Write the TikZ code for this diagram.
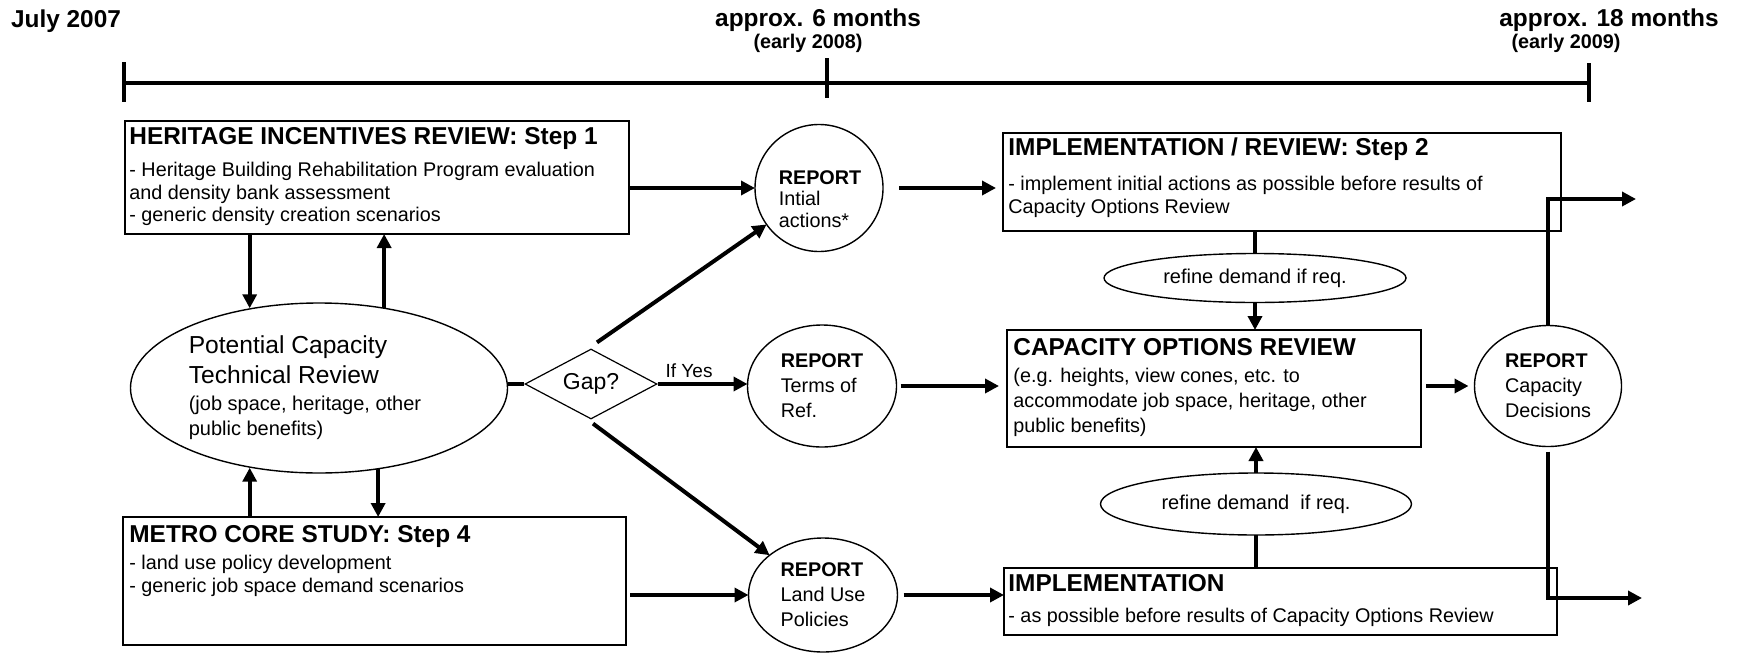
\documentclass[tikz,border=0pt]{standalone}
\usepackage{fontspec}
\setmainfont{Liberation Sans}
\usetikzlibrary{shapes.geometric, arrows.meta, calc, positioning}

\tikzset{
  box/.style={draw, line width=1pt, anchor=north west, inner sep=0pt, outer sep=0pt},
  boxtext/.style={anchor=north west, align=left, inner sep=0pt},
  report/.style={draw, ellipse, line width=0.7pt, align=left, inner sep=0pt, outer sep=0pt, font=\fontsize{9.9}{12.5}\selectfont},
  refine/.style={draw, ellipse, line width=0.7pt, inner sep=0pt, outer sep=0pt, font=\fontsize{10}{12}\selectfont},
  conn/.style={line width=2pt, -{Triangle[length=7pt,width=7pt]}},
  link/.style={line width=2pt},
  timeline/.style={line width=2.3pt},
  datelabel/.style={anchor=base, inner sep=0pt, font=\fontsize{12.2}{14}\selectfont\bfseries},
  earlylabel/.style={anchor=base, inner sep=0pt, font=\fontsize{9.9}{12}\selectfont\bfseries},
}
\newcommand{\bxtitle}[1]{{\fontsize{12.2}{14}\selectfont\bfseries #1}}

\begin{document}
\begin{tikzpicture}[x=0.5pt, y=-0.5pt]
  \useasboundingbox (0,0) rectangle (1738,653);

  % ציר הזמן
  \draw[timeline] (124,83) -- (1589,83);
  \foreach \tx/\ya/\yb in {124/62/102, 827/58/98, 1589/63/102}
    \draw[timeline] (\tx,\ya) -- (\tx,\yb);
  \node[datelabel] (t0) at (66,27) {July 2007};
  \node[datelabel] (t6) at (818,26) {approx. 6 months};
  \node[earlylabel] (e08) at (808,48) {(early 2008)};
  \node[datelabel] (t18) at (1609,26) {approx. 18 months};
  \node[earlylabel] (e09) at (1566,48) {(early 2009)};

  % תיבות
  \node[box, minimum width=252pt, minimum height=56.5pt] (her) at (125,121) {};
  \node[boxtext, font=\fontsize{9.9}{11.25}\selectfont] (her-t) at ($(her.north west)+(4,6.5)$)
    {\bxtitle{HERITAGE INCENTIVES REVIEW: Step 1}\\[4.75pt]
     - Heritage Building Rehabilitation Program evaluation\\
     and density bank assessment\\
     - generic density creation scenarios};

  \node[box, minimum width=279pt, minimum height=49pt] (implrev) at (1003,133) {};
  \node[boxtext, font=\fontsize{9.9}{11.5}\selectfont] (implrev-t) at ($(implrev.north west)+(5,4.5)$)
    {\bxtitle{IMPLEMENTATION / REVIEW: Step 2}\\[6pt]
     - implement initial actions as possible before results of\\
     Capacity Options Review};

  \node[box, minimum width=207pt, minimum height=58.5pt] (cap) at (1007,330) {};
  \node[boxtext, font=\fontsize{9.9}{12.5}\selectfont] (cap-t) at ($(cap.north west)+(6,8.5)$)
    {\bxtitle{CAPACITY OPTIONS REVIEW}\\[1pt]
     (e.g. heights, view cones, etc. to\\
     accommodate job space, heritage, other\\
     public benefits)};

  \node[box, minimum width=276.5pt, minimum height=33.5pt] (impl) at (1004,568) {};
  \node[boxtext, font=\fontsize{9.9}{12}\selectfont] (impl-t) at ($(impl.north west)+(4,6.5)$)
    {\bxtitle{IMPLEMENTATION}\\[3.5pt]
     - as possible before results of Capacity Options Review};

  \node[box, minimum width=251.5pt, minimum height=64pt] (metro) at (123,517) {};
  \node[boxtext, font=\fontsize{9.9}{11.5}\selectfont] (metro-t) at ($(metro.north west)+(6,8.5)$)
    {\bxtitle{METRO CORE STUDY: Step 4}\\[2pt]
     - land use policy development\\
     - generic job space demand scenarios};

  % אליפסה ומעוין
  \node[draw, ellipse, line width=0.7pt, minimum width=188.5pt, minimum height=85pt, inner sep=0pt,
        align=left, font=\fontsize{12.3}{15}\selectfont] (captech) at (319,388)
    {Potential Capacity\\Technical Review\\[-1.5pt]
     {\fontsize{10}{12}\selectfont (job space, heritage, other}\rule{14pt}{0pt}\\[-2.5pt]
     {\fontsize{10}{12}\selectfont public benefits)}};
  \node[draw, diamond, aspect=1.87, line width=0.6pt, minimum width=66pt, minimum height=35pt,
        inner sep=0pt, font=\fontsize{11.5}{13}\selectfont] (gap) at (591,384) {Gap?};

  % דוחות
  \node[report, minimum width=64pt, minimum height=63.5pt] (init) at (819,188) {};
  \node[align=left, inner sep=0pt, font=\fontsize{9.9}{10.75}\selectfont] (init-t) at (820,199)
    {\textbf{REPORT}\\Intial\\actions*};
  \node[report, minimum width=74.5pt, minimum height=61pt] (terms) at (822,386) {\textbf{REPORT}\\Terms of\\Ref.};
  \node[report, minimum width=74.5pt, minimum height=57pt] (landuse) at (823,595) {\textbf{REPORT}\\Land Use\\Policies};
  \node[report, minimum width=73.5pt, minimum height=60.5pt] (dec) at (1548,386) {\textbf{REPORT}\\Capacity\\Decisions};

  \node[refine, minimum width=151pt, minimum height=24.5pt] (ref1) at (1255,278) {refine demand if req.};
  \node[refine, minimum width=155.5pt, minimum height=31pt] (ref2) at (1256,504) {refine demand~ if req.};

  \coordinate (out1) at (1636,199);
  \coordinate (out2) at (1642,598);

  % חיצים
  \draw[conn] (her.south -| captech.131) -- (captech.131);
  \draw[conn] (captech.51) -- (captech.51 |- her.south);
  \draw[conn] (metro.north -| captech.229) -- (captech.229);
  \draw[conn] (captech.306) -- (captech.306 |- metro.north);
  \draw[link] (gap.west) -- (gap.west -| captech.east);

  \draw[conn] ([shift={(6,-6)}]gap.north) -- (init);
  \draw[conn] (gap.east) -- node[pos=0.35, above, inner sep=2pt, font=\fontsize{9.5}{11}\selectfont] (ifyes) {If Yes} (terms.west |- gap.east);
  \draw[conn] ([shift={(2,4)}]gap.south) -- (landuse);

  \draw[conn] (her.east |- init) -- (init.west);
  \draw[conn, shorten <=8pt, shorten >=3.5pt] (init.east) -- (implrev.west |- init.east);
  \draw[conn, shorten <=2pt, shorten >=4pt] (terms.east) -- (cap.west |- terms.east);
  \draw[conn, shorten <=2pt] (metro.east |- landuse.west) -- (landuse.west);
  \draw[conn, shorten <=3pt] (landuse.east) -- (impl.west |- landuse.east);

  \draw[link] (implrev.south -| ref1.north) -- (ref1.north);
  \draw[conn] (ref1.south) -- (ref1.south |- cap.north);
  \draw[link] (impl.north -| ref2.south) -- (ref2.south);
  \draw[conn] (ref2.north) -- (ref2.north |- cap.south);

  \draw[conn, shorten <=2.5pt, shorten >=3pt] (cap.east |- dec.west) -- (dec.west);
  \draw[conn] (dec.north) |- (out1);
  \draw[conn, shorten <=2.5pt] (dec.south) |- (out2);
\end{tikzpicture}
\end{document}
